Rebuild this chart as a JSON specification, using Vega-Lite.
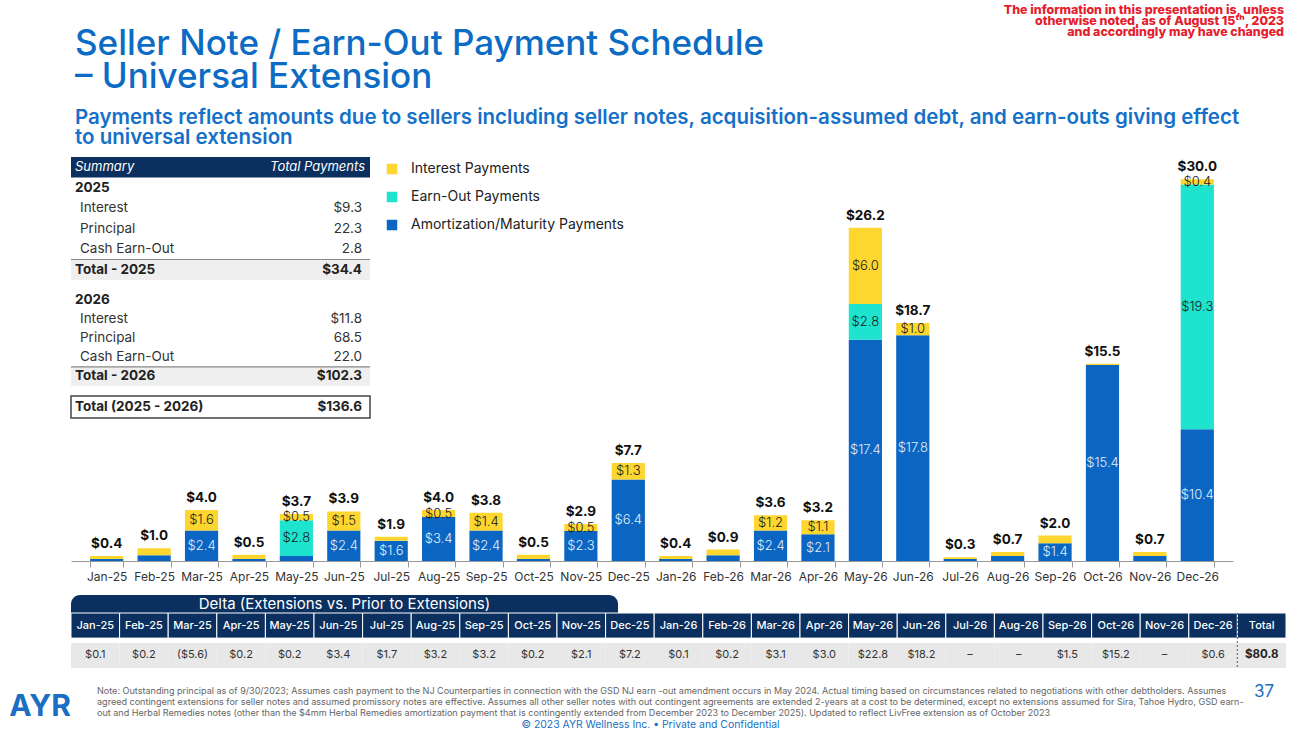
{
  "$schema": "https://vega.github.io/schema/vega-lite/v6.json",
  "padding": {"left": 9, "top": 4, "right": 0, "bottom": 0},
  "background": "white",
  "bounds": "flush",
  "spacing": 0,
  "resolve": {"scale": {"x": "independent", "y": "independent", "color": "independent"}, "legend": {"color": "independent"}},
  "config": {
    "view": {"stroke": null},
    "font": "Inter",
    "text": {"font": "Inter"}
  },
  "vconcat": [
    {
      "width": 1215, "height": 12,
      "data": {"values": [{"t": "The information in this presentation is, unless\notherwise noted, as of August 15ᵗʰ, 2023\nand accordingly may have changed"}]},
      "mark": {"type": "text", "align": "right", "baseline": "top", "lineBreak": "\n", "lineHeight": 11.2, "fontSize": 12.4, "fontWeight": 800, "color": "#e4202c", "dx": -2},
      "encoding": {"text": {"field": "t"}, "x": {"value": "width"}, "y": {"value": 0}},
      "title": {
        "text": ["Seller Note / Earn-Out Payment Schedule", "– Universal Extension"],
        "subtitle": ["Payments reflect amounts due to sellers including seller notes, acquisition-assumed debt, and earn-outs giving effect", "to universal extension"],
        "orient": "bottom", "frame": "group", "anchor": "start", "dx": 4, "dy": -12, "offset": 0,
        "font": "Inter", "fontSize": 35, "fontWeight": 500, "color": "#0c6cc4", "lineHeight": 33,
        "subtitleFont": "Inter", "subtitleFontSize": 20.5, "subtitleFontWeight": 600, "subtitleColor": "#1570c8", "subtitleLineHeight": 20.5, "subtitlePadding": 13
      }
    },
    {
      "width": 1, "height": 141,
      "data": {"values": [{"s": ""}]},
      "mark": {"type": "text"},
      "encoding": {"text": {"field": "s"}}
    },
    {
      "width": 299, "height": 123,
      "data": {"values": [
        {"r": "Summary", "v": "Total Payments", "k": "header"},
        {"r": "2025", "v": "", "k": "year"},
        {"r": "Interest", "v": "$9.3", "k": "item"},
        {"r": "Principal", "v": "22.3", "k": "item"},
        {"r": "Cash Earn-Out", "v": "2.8", "k": "item"},
        {"r": "Total - 2025", "v": "$34.4", "k": "total"}
      ]},
      "encoding": {"y": {"field": "r", "type": "nominal", "axis": null, "scale": {"domain": ["Summary", "2025", "Interest", "Principal", "Cash Earn-Out", "Total - 2025"], "paddingInner": 0, "paddingOuter": 0}}},
      "layer": [
        {"transform": [{"filter": "datum.k === 'header'"}], "mark": {"type": "bar", "color": "#0b2f5e"}},
        {"transform": [{"filter": "datum.k === 'total'"}], "mark": {"type": "bar", "color": "#efefef"}},
        {"transform": [{"filter": "datum.k === 'total'"}], "mark": {"type": "rule", "color": "#888888", "strokeWidth": 1.2},
         "encoding": {"y": {"field": "r", "type": "nominal", "axis": null, "bandPosition": 0}}},
        {"transform": [{"filter": "datum.k === 'header'"}], "mark": {"type": "text", "align": "left", "dx": 4, "fontSize": 13, "fontStyle": "italic", "color": "white"},
         "encoding": {"text": {"field": "r"}, "x": {"datum": "L", "type": "nominal", "scale": {"type": "point", "domain": ["L", "R"], "padding": 0}, "axis": null}}},
        {"transform": [{"filter": "datum.k === 'year' || datum.k === 'total'"}], "mark": {"type": "text", "align": "left", "dx": 4, "fontSize": 13.5, "fontWeight": "bold", "color": "#222222"},
         "encoding": {"text": {"field": "r"}, "x": {"datum": "L", "type": "nominal"}}},
        {"transform": [{"filter": "datum.k === 'item'"}], "mark": {"type": "text", "align": "left", "dx": 9, "fontSize": 13.5, "color": "#333333"},
         "encoding": {"text": {"field": "r"}, "x": {"datum": "L", "type": "nominal"}}},
        {"transform": [{"filter": "datum.k === 'header'"}], "mark": {"type": "text", "align": "right", "dx": -5, "fontSize": 13, "fontStyle": "italic", "color": "white"},
         "encoding": {"text": {"field": "v"}, "x": {"datum": "R", "type": "nominal"}}},
        {"transform": [{"filter": "datum.k === 'total'"}], "mark": {"type": "text", "align": "right", "dx": -8, "fontSize": 13.5, "fontWeight": "bold", "color": "#222222"},
         "encoding": {"text": {"field": "v"}, "x": {"datum": "R", "type": "nominal"}}},
        {"transform": [{"filter": "datum.k === 'item'"}], "mark": {"type": "text", "align": "right", "dx": -8, "fontSize": 13.5, "color": "#333333"},
         "encoding": {"text": {"field": "v"}, "x": {"datum": "R", "type": "nominal"}}}
      ]
    },
    {
      "width": 1, "height": 10,
      "data": {"values": [{"s": ""}]},
      "mark": {"type": "text"},
      "encoding": {"text": {"field": "s"}}
    },
    {
      "width": 299, "height": 96,
      "data": {"values": [
        {"r": "2026", "v": "", "k": "year"},
        {"r": "Interest", "v": "$11.8", "k": "item"},
        {"r": "Principal", "v": "68.5", "k": "item"},
        {"r": "Cash Earn-Out", "v": "22.0", "k": "item"},
        {"r": "Total - 2026", "v": "$102.3", "k": "total"}
      ]},
      "encoding": {"y": {"field": "r", "type": "nominal", "axis": null, "scale": {"domain": ["2026", "Interest", "Principal", "Cash Earn-Out", "Total - 2026"], "paddingInner": 0, "paddingOuter": 0}}},
      "layer": [
        {"transform": [{"filter": "datum.k === 'total'"}], "mark": {"type": "bar", "color": "#efefef"}},
        {"transform": [{"filter": "datum.k === 'total'"}], "mark": {"type": "rule", "color": "#888888", "strokeWidth": 1.2},
         "encoding": {"y": {"field": "r", "type": "nominal", "axis": null, "bandPosition": 0}}},
        {"transform": [{"filter": "datum.k === 'year' || datum.k === 'total'"}], "mark": {"type": "text", "align": "left", "dx": 4, "fontSize": 13.5, "fontWeight": "bold", "color": "#222222"},
         "encoding": {"text": {"field": "r"}, "x": {"datum": "L", "type": "nominal", "scale": {"type": "point", "domain": ["L", "R"], "padding": 0}, "axis": null}}},
        {"transform": [{"filter": "datum.k === 'item'"}], "mark": {"type": "text", "align": "left", "dx": 9, "fontSize": 13.5, "color": "#333333"},
         "encoding": {"text": {"field": "r"}, "x": {"datum": "L", "type": "nominal"}}},
        {"transform": [{"filter": "datum.k === 'total'"}], "mark": {"type": "text", "align": "right", "dx": -8, "fontSize": 13.5, "fontWeight": "bold", "color": "#222222"},
         "encoding": {"text": {"field": "v"}, "x": {"datum": "R", "type": "nominal"}}},
        {"transform": [{"filter": "datum.k === 'item'"}], "mark": {"type": "text", "align": "right", "dx": -8, "fontSize": 13.5, "color": "#333333"},
         "encoding": {"text": {"field": "v"}, "x": {"datum": "R", "type": "nominal"}}}
      ]
    },
    {
      "width": 1, "height": 10,
      "data": {"values": [{"s": ""}]},
      "mark": {"type": "text"},
      "encoding": {"text": {"field": "s"}}
    },
    {
      "width": 299, "height": 22,
      "data": {"values": [{"r": "Total (2025 - 2026)", "v": "$136.6", "k": "grand"}]},
      "encoding": {"y": {"field": "r", "type": "nominal", "axis": null, "scale": {"paddingInner": 0, "paddingOuter": 0}}},
      "layer": [
        {"mark": {"type": "bar", "color": "white", "stroke": "#444444", "strokeWidth": 1.5}},
        {"mark": {"type": "text", "align": "left", "dx": 4, "fontSize": 13.5, "fontWeight": "bold", "color": "#222222"},
         "encoding": {"text": {"field": "r"}, "x": {"datum": "L", "type": "nominal", "scale": {"type": "point", "domain": ["L", "R"], "padding": 0}, "axis": null}}},
        {"mark": {"type": "text", "align": "right", "dx": -8, "fontSize": 13.5, "fontWeight": "bold", "color": "#222222"},
         "encoding": {"text": {"field": "v"}, "x": {"datum": "R", "type": "nominal"}}}
      ]
    },
    {
      "width": 1162, "height": 143,
      "data": {"values": [
        {"m": "Jan-25", "type": "Amortization/Maturity Payments", "v": 0.15, "lbl": ""},
        {"m": "Jan-25", "type": "Interest Payments", "v": 0.25, "lbl": ""},
        {"m": "Feb-25", "type": "Amortization/Maturity Payments", "v": 0.45, "lbl": ""},
        {"m": "Feb-25", "type": "Interest Payments", "v": 0.55, "lbl": ""},
        {"m": "Mar-25", "type": "Amortization/Maturity Payments", "v": 2.4, "lbl": "$2.4"},
        {"m": "Mar-25", "type": "Interest Payments", "v": 1.6, "lbl": "$1.6"},
        {"m": "Apr-25", "type": "Amortization/Maturity Payments", "v": 0.15, "lbl": ""},
        {"m": "Apr-25", "type": "Interest Payments", "v": 0.35, "lbl": ""},
        {"m": "May-25", "type": "Amortization/Maturity Payments", "v": 0.4, "lbl": ""},
        {"m": "May-25", "type": "Earn-Out Payments", "v": 2.8, "lbl": "$2.8"},
        {"m": "May-25", "type": "Interest Payments", "v": 0.5, "lbl": "$0.5"},
        {"m": "Jun-25", "type": "Amortization/Maturity Payments", "v": 2.4, "lbl": "$2.4"},
        {"m": "Jun-25", "type": "Interest Payments", "v": 1.5, "lbl": "$1.5"},
        {"m": "Jul-25", "type": "Amortization/Maturity Payments", "v": 1.6, "lbl": "$1.6"},
        {"m": "Jul-25", "type": "Interest Payments", "v": 0.3, "lbl": ""},
        {"m": "Aug-25", "type": "Amortization/Maturity Payments", "v": 3.45, "lbl": "$3.4"},
        {"m": "Aug-25", "type": "Interest Payments", "v": 0.55, "lbl": "$0.5"},
        {"m": "Sep-25", "type": "Amortization/Maturity Payments", "v": 2.4, "lbl": "$2.4"},
        {"m": "Sep-25", "type": "Interest Payments", "v": 1.4, "lbl": "$1.4"},
        {"m": "Oct-25", "type": "Amortization/Maturity Payments", "v": 0.15, "lbl": ""},
        {"m": "Oct-25", "type": "Interest Payments", "v": 0.35, "lbl": ""},
        {"m": "Nov-25", "type": "Amortization/Maturity Payments", "v": 2.35, "lbl": "$2.3"},
        {"m": "Nov-25", "type": "Interest Payments", "v": 0.55, "lbl": "$0.5"},
        {"m": "Dec-25", "type": "Amortization/Maturity Payments", "v": 6.4, "lbl": "$6.4"},
        {"m": "Dec-25", "type": "Interest Payments", "v": 1.3, "lbl": "$1.3"},
        {"m": "Jan-26", "type": "Amortization/Maturity Payments", "v": 0.15, "lbl": ""},
        {"m": "Jan-26", "type": "Interest Payments", "v": 0.25, "lbl": ""},
        {"m": "Feb-26", "type": "Amortization/Maturity Payments", "v": 0.45, "lbl": ""},
        {"m": "Feb-26", "type": "Interest Payments", "v": 0.45, "lbl": ""},
        {"m": "Mar-26", "type": "Amortization/Maturity Payments", "v": 2.4, "lbl": "$2.4"},
        {"m": "Mar-26", "type": "Interest Payments", "v": 1.2, "lbl": "$1.2"},
        {"m": "Apr-26", "type": "Amortization/Maturity Payments", "v": 2.1, "lbl": "$2.1"},
        {"m": "Apr-26", "type": "Interest Payments", "v": 1.1, "lbl": "$1.1"},
        {"m": "May-26", "type": "Amortization/Maturity Payments", "v": 17.4, "lbl": "$17.4"},
        {"m": "May-26", "type": "Earn-Out Payments", "v": 2.8, "lbl": "$2.8"},
        {"m": "May-26", "type": "Interest Payments", "v": 6.0, "lbl": "$6.0"},
        {"m": "Jun-26", "type": "Amortization/Maturity Payments", "v": 17.75, "lbl": "$17.8"},
        {"m": "Jun-26", "type": "Interest Payments", "v": 0.95, "lbl": "$1.0"},
        {"m": "Jul-26", "type": "Amortization/Maturity Payments", "v": 0.15, "lbl": ""},
        {"m": "Jul-26", "type": "Interest Payments", "v": 0.15, "lbl": ""},
        {"m": "Aug-26", "type": "Amortization/Maturity Payments", "v": 0.4, "lbl": ""},
        {"m": "Aug-26", "type": "Interest Payments", "v": 0.3, "lbl": ""},
        {"m": "Sep-26", "type": "Amortization/Maturity Payments", "v": 1.4, "lbl": "$1.4"},
        {"m": "Sep-26", "type": "Interest Payments", "v": 0.6, "lbl": ""},
        {"m": "Oct-26", "type": "Amortization/Maturity Payments", "v": 15.4, "lbl": "$15.4"},
        {"m": "Oct-26", "type": "Interest Payments", "v": 0.1, "lbl": ""},
        {"m": "Nov-26", "type": "Amortization/Maturity Payments", "v": 0.4, "lbl": ""},
        {"m": "Nov-26", "type": "Interest Payments", "v": 0.3, "lbl": ""},
        {"m": "Dec-26", "type": "Amortization/Maturity Payments", "v": 10.35, "lbl": "$10.4"},
        {"m": "Dec-26", "type": "Earn-Out Payments", "v": 19.25, "lbl": "$19.3"},
        {"m": "Dec-26", "type": "Interest Payments", "v": 0.4, "lbl": "$0.4"}
      ]},
      "transform": [
        {"stack": "v", "groupby": ["m"], "sort": [{"field": "type", "order": "ascending"}], "as": ["y0", "y1"]},
        {"calculate": "(datum.y0 + datum.y1) / 2", "as": "ymid"}
      ],
      "encoding": {
        "x": {
          "field": "m", "type": "nominal", "title": null,
          "scale": {"domain": ["Jan-25", "Feb-25", "Mar-25", "Apr-25", "May-25", "Jun-25", "Jul-25", "Aug-25", "Sep-25", "Oct-25", "Nov-25", "Dec-25", "Jan-26", "Feb-26", "Mar-26", "Apr-26", "May-26", "Jun-26", "Jul-26", "Aug-26", "Sep-26", "Oct-26", "Nov-26", "Dec-26"], "paddingInner": 0.3, "paddingOuter": 0.403},
          "axis": {"labelAngle": 0, "labelFontSize": 12, "labelColor": "#333333", "labelFont": "Inter", "tickBand": "extent", "tickSize": 6, "tickColor": "#999999", "domainColor": "#999999", "labelPadding": 4}
        }
      },
      "layer": [
        {
          "mark": {"type": "bar"},
          "encoding": {
            "y": {"field": "y1", "type": "quantitative", "scale": {"domain": [0, 11.24], "nice": false, "zero": true}, "axis": null},
            "y2": {"field": "y0"},
            "color": {
              "field": "type", "type": "nominal",
              "scale": {"domain": ["Interest Payments", "Earn-Out Payments", "Amortization/Maturity Payments"], "range": ["#fdd630", "#1ee3cf", "#0a66c2"]},
              "legend": {"orient": "none", "legendX": 314, "legendY": -256, "title": null, "symbolType": "square", "symbolSize": 110, "symbolStrokeWidth": 0, "labelFontSize": 14, "labelColor": "#222222", "labelFont": "Inter", "labelLimit": 400, "rowPadding": 14, "labelOffset": 12, "padding": 0}
            }
          }
        },
        {
          "transform": [{"filter": "datum.lbl !== ''"}],
          "mark": {"type": "text", "fontSize": 13, "fontWeight": 300},
          "encoding": {
            "y": {"field": "ymid", "type": "quantitative", "scale": {"domain": [0, 11.24], "nice": false}},
            "text": {"field": "lbl"},
            "color": {"condition": {"test": "datum.type === 'Amortization/Maturity Payments'", "value": "#e3eefa"}, "value": "#1a1a1a"}
          }
        },
        {
          "transform": [{"aggregate": [{"op": "sum", "field": "v", "as": "tot"}], "groupby": ["m"]}],
          "mark": {"type": "text", "baseline": "bottom", "dy": -5, "fontSize": 13.5, "fontWeight": "bold", "color": "#111111"},
          "encoding": {
            "y": {"field": "tot", "type": "quantitative", "scale": {"domain": [0, 11.24], "nice": false}},
            "text": {"field": "tot", "type": "quantitative", "format": "$.1f"}
          }
        }
      ]
    },
    {
      "width": 1, "height": 34,
      "data": {"values": [{"s": ""}]},
      "mark": {"type": "text"},
      "encoding": {"text": {"field": "s"}}
    },
    {
      "width": 547, "height": 18,
      "data": {"values": [{"t": "Delta (Extensions vs. Prior to Extensions)"}]},
      "layer": [
        {"mark": {"type": "bar", "color": "#0b2f5e", "cornerRadiusTopLeft": 9, "cornerRadiusTopRight": 9}, "encoding": {}},
        {"mark": {"type": "text", "fontSize": 15, "color": "white"}, "encoding": {"text": {"field": "t"}}}
      ]
    },
    {
      "width": 1215, "height": 55,
      "data": {"values": [
        {"c": "Jan-25", "v": "$0.1"}, {"c": "Feb-25", "v": "$0.2"}, {"c": "Mar-25", "v": "($5.6)"}, {"c": "Apr-25", "v": "$0.2"},
        {"c": "May-25", "v": "$0.2"}, {"c": "Jun-25", "v": "$3.4"}, {"c": "Jul-25", "v": "$1.7"}, {"c": "Aug-25", "v": "$3.2"},
        {"c": "Sep-25", "v": "$3.2"}, {"c": "Oct-25", "v": "$0.2"}, {"c": "Nov-25", "v": "$2.1"}, {"c": "Dec-25", "v": "$7.2"},
        {"c": "Jan-26", "v": "$0.1"}, {"c": "Feb-26", "v": "$0.2"}, {"c": "Mar-26", "v": "$3.1"}, {"c": "Apr-26", "v": "$3.0"},
        {"c": "May-26", "v": "$22.8"}, {"c": "Jun-26", "v": "$18.2"}, {"c": "Jul-26", "v": "–"}, {"c": "Aug-26", "v": "–"},
        {"c": "Sep-26", "v": "$1.5"}, {"c": "Oct-26", "v": "$15.2"}, {"c": "Nov-26", "v": "–"}, {"c": "Dec-26", "v": "$0.6"},
        {"c": "Total", "v": "$80.8"}
      ]},
      "encoding": {"x": {"field": "c", "type": "nominal", "sort": null, "axis": null, "scale": {"paddingInner": 0, "paddingOuter": 0}}},
      "layer": [
        {"mark": {"type": "rect", "color": "#0b2f5e", "stroke": "white", "strokeWidth": 1},
         "encoding": {"y": {"datum": "hdr", "type": "nominal", "scale": {"domain": ["hdr", "val"], "paddingInner": 0.16, "paddingOuter": 0}, "axis": null}}},
        {"mark": {"type": "rect", "color": "#e8e8e8"},
         "encoding": {"y": {"datum": "val", "type": "nominal"}}},
        {"mark": {"type": "text", "fontSize": 11, "fontWeight": 500, "color": "white"},
         "encoding": {"y": {"datum": "hdr", "type": "nominal"}, "text": {"field": "c"}}},
        {"transform": [{"filter": "datum.c !== 'Total'"}], "mark": {"type": "text", "fontSize": 11, "color": "#333333"},
         "encoding": {"y": {"datum": "val", "type": "nominal"}, "text": {"field": "v"}}},
        {"transform": [{"filter": "datum.c === 'Total'"}], "mark": {"type": "text", "fontSize": 11.5, "fontWeight": "bold", "color": "#222222"},
         "encoding": {"y": {"datum": "val", "type": "nominal"}, "text": {"field": "v"}}},
        {"transform": [{"filter": "datum.c === 'Total'"}], "mark": {"type": "rule", "strokeDash": [2, 2], "color": "#777777", "strokeWidth": 1.3},
         "encoding": {"x": {"field": "c", "type": "nominal", "sort": null, "bandPosition": 0}}}
      ]
    },
    {
      "width": 1, "height": 16,
      "data": {"values": [{"s": ""}]},
      "mark": {"type": "text"},
      "encoding": {"text": {"field": "s"}}
    },
    {
      "width": 1215, "height": 46,
      "data": {"values": [{
        "note": "Note: Outstanding principal as of 9/30/2023; Assumes cash payment to the NJ Counterparties in connection with the GSD NJ earn -out amendment occurs in May 2024. Actual timing based on circumstances related to negotiations with other debtholders. Assumes\nagreed contingent extensions for seller notes and assumed promissory notes are effective. Assumes all other seller notes with out contingent agreements are extended 2-years at a cost to be determined, except no extensions assumed for Sira, Tahoe Hydro, GSD earn-\nout and Herbal Remedies notes (other than the $4mm Herbal Remedies amortization payment that is contingently extended from December 2023 to December 2025). Updated to reflect LivFree extension as of October 2023",
        "copy": "© 2023 AYR Wellness Inc.  •  Private and Confidential",
        "logo": "AYR",
        "page": "37"
      }]},
      "layer": [
        {"mark": {"type": "text", "align": "left", "baseline": "top", "dx": 26, "dy": 3, "fontSize": 9.05, "lineHeight": 11, "lineBreak": "\n", "color": "#666666"},
         "encoding": {"text": {"field": "note"}, "x": {"value": 0}, "y": {"value": 0}}},
        {"mark": {"type": "text", "baseline": "bottom", "dx": -28, "fontSize": 10.4, "color": "#1a6fc4"},
         "encoding": {"text": {"field": "copy"}, "y": {"value": "height"}}},
        {"mark": {"type": "text", "align": "right", "fontSize": 30, "fontWeight": 700, "color": "#1a6fc4"},
         "encoding": {"text": {"field": "logo"}, "x": {"value": 0}}},
        {"mark": {"type": "text", "align": "right", "baseline": "top", "dx": -12, "fontSize": 17, "color": "#1a6fc4"},
         "encoding": {"text": {"field": "page"}, "x": {"value": "width"}, "y": {"value": 0}}}
      ]
    }
  ]
}
